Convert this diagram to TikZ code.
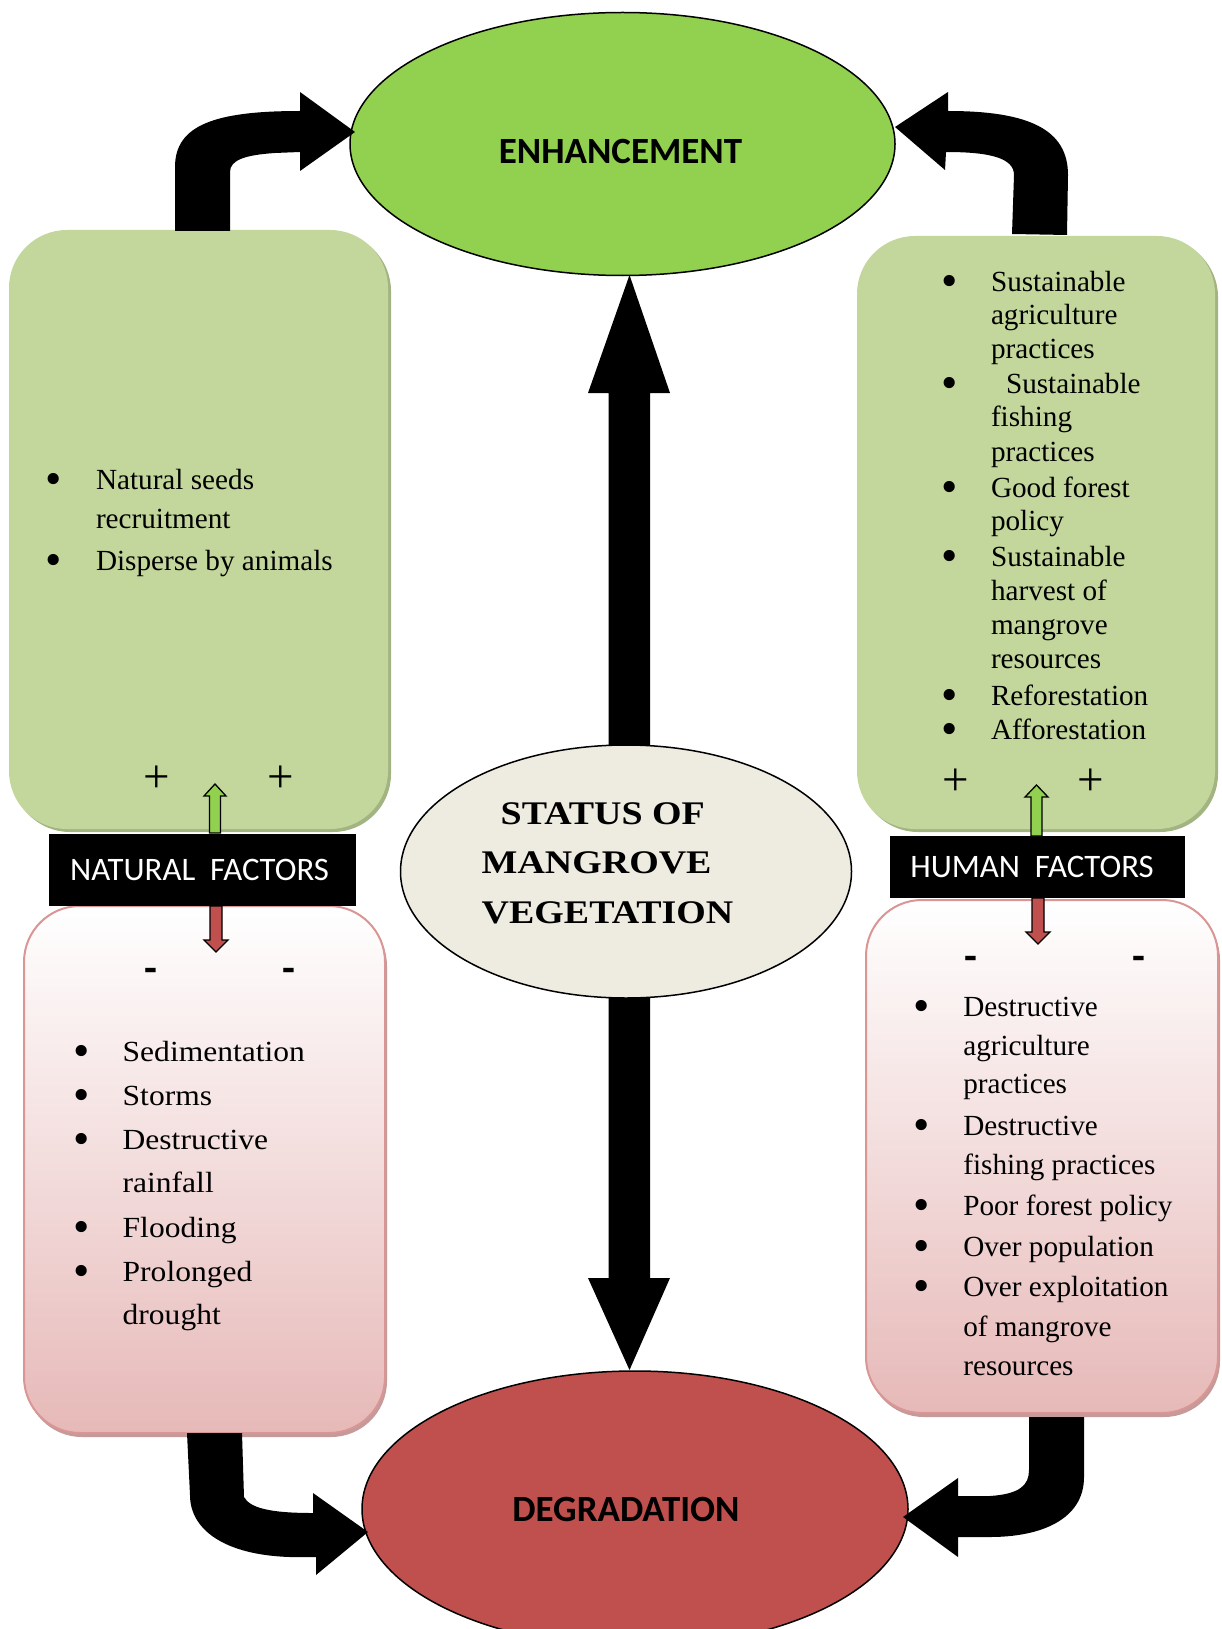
\documentclass[tikz,border=0pt]{standalone}
\usepackage{fontspec}
\usepackage{graphicx}
\setmainfont{Liberation Serif}
\newfontfamily\calibri{Carlito}
\usetikzlibrary{shapes.geometric,shadows}
\definecolor{enhgreen}{HTML}{92D050}
\definecolor{boxgreen}{HTML}{C3D69B}
\definecolor{greenshadow}{HTML}{A3B483}
\definecolor{degred}{HTML}{C0504D}
\definecolor{statusfill}{HTML}{EEECE1}
\definecolor{pinkdeep}{HTML}{E6B9B8}
\definecolor{pinkborder}{HTML}{D99694}
\definecolor{pinkshadow}{HTML}{C49A9A}
\newcommand\lstfnt{\fontsize{29.2pt}{34pt}\selectfont}
\newcommand\bigbul{\smash{\scalebox{1.6}{\textbullet}}}
\begin{document}
\begin{tikzpicture}[x=1pt,y=-1pt,
  every node/.style={inner sep=0pt,outer sep=0pt},
  greenbox/.style={fill=boxgreen,rounded corners=58pt,
     general shadow={shadow xshift=3pt,shadow yshift=-3pt,fill=greenshadow}},
  pinkbox/.style={draw=pinkborder,line width=2pt,top color=white,bottom color=pinkdeep,
     rounded corners=56pt,
     general shadow={shadow xshift=2pt,shadow yshift=-4pt,fill=pinkshadow}},
  bigell/.style={ellipse,draw=black,line width=1.5pt},
  factorbox/.style={fill=black,text=white,font=\calibri\fontsize{32.8pt}{36pt}\selectfont},
  lsttext/.style={anchor=base west,font=\lstfnt},
  lstbul/.style={anchor=base,font=\lstfnt},
  plussign/.style={font=\fontsize{47pt}{50pt}\selectfont},
  minussign/.style={anchor=base,font=\calibri\bfseries\fontsize{42pt}{46pt}\selectfont},
  statustext/.style={anchor=base west,font=\bfseries\fontsize{33pt}{40pt}\selectfont},
  titletext/.style={font=\calibri\bfseries\fontsize{37pt}{40pt}\selectfont},
  blockarrow/.style={fill=black},
  smallarrow/.style={draw=black,line width=1.3pt,line join=miter}
]
\useasboundingbox (0,0) rectangle (1221,1629);
\clip (0,0) rectangle (1221,1629);
\fill[white] (0,0) rectangle (1221,1629);

% boxes
\node[greenbox,minimum width=379pt,minimum height=599pt] (lgreen) at (198.5,529.5) {};
\node[greenbox,minimum width=358pt,minimum height=593pt] (rgreen) at (1036,532.5) {};
\node[pinkbox,minimum width=361pt,minimum height=527pt] (lpink) at (204.5,1169.5) {};
\node[pinkbox,minimum width=352pt,minimum height=513pt] (rpink) at (1042,1156.5) {};

% central double arrow
\fill[blockarrow] (629.5,275) -- (670,393) -- (650,393) -- (650,1278) -- (670,1278)
  -- (629.5,1370) -- (588,1278) -- (608.5,1278) -- (608.5,393) -- (588,393) -- cycle;

% ellipses
\node[bigell,fill=enhgreen,minimum width=545pt,minimum height=263pt] (enh) at (622.5,144) {};
\node[titletext] (enht) at (620.5,151) {ENHANCEMENT};
\node[bigell,fill=degred,minimum width=546pt,minimum height=276pt] (deg) at (635,1509) {};
\node[titletext] (degt) at (626,1509) {DEGRADATION};
\node[bigell,fill=statusfill,minimum width=451pt,minimum height=253pt] (stat) at (626,871.5) {};
\node[statustext] (st1) at (500.7,824) {\scalebox{1.15}[1]{STATUS OF}};
\node[statustext] (st2) at (481.7,873) {\scalebox{1.15}[1]{MANGROVE}};
\node[statustext] (st3) at (481.7,923) {\scalebox{1.15}[1]{VEGETATION}};

% curved block arrows
\fill[blockarrow] (175,231) -- (175,167) .. controls (175,125) and (215,111) .. (300,111)
  -- (300,92) -- (355,132) -- (300,171) -- (300,152) -- (275,153)
  .. controls (245,155) and (230,160) .. (230,172) -- (230,231) -- cycle;
\fill[blockarrow] (895,127) -- (948,92) -- (948,111) .. controls (1030,111) and (1068,130) .. (1068,175)
  -- (1067,235) -- (1012,234) -- (1014,175) .. controls (1014,158) and (990,152) .. (946,152)
  -- (945,170) -- cycle;
\fill[blockarrow] (187,1433) -- (242,1433) -- (244,1497) .. controls (250,1508) and (270,1513) .. (313,1513)
  -- (313,1493) -- (368,1532) -- (316,1575) -- (316,1557) -- (290,1557)
  .. controls (225,1555) and (190,1530) .. (190,1495) -- cycle;
\fill[blockarrow] (1029,1417) -- (1084,1417) -- (1084,1477) .. controls (1084,1520) and (1040,1537) .. (990,1537)
  -- (958,1537) -- (958,1557) -- (903,1517) -- (958,1478) -- (958,1496) -- (990,1496)
  .. controls (1020,1494) and (1029,1485) .. (1029,1470) -- cycle;

% factor labels
\node[factorbox,minimum width=307pt,minimum height=72pt] (nat) at (202.5,870) {\hspace*{-6pt}NATURAL\ \ FACTORS};
\node[factorbox,minimum width=295pt,minimum height=62pt] (hum) at (1037.5,867) {\hspace*{-11pt}HUMAN\ \ FACTORS};

% small arrows
\filldraw[smallarrow,fill=enhgreen] (209.5,833) -- (209.5,796) -- (204,796) -- (215,784) -- (226,796) -- (220.5,796) -- (220.5,833) -- cycle;
\filldraw[smallarrow,fill=enhgreen] (1031,836) -- (1031,797) -- (1025,797) -- (1036.5,785) -- (1048,797) -- (1042,797) -- (1042,836) -- cycle;
\filldraw[smallarrow,fill=degred] (210,906) -- (210,940) -- (204,940) -- (216,952) -- (228,940) -- (222,940) -- (222,906) -- cycle;
\filldraw[smallarrow,fill=degred] (1032,898) -- (1032,932) -- (1026,932) -- (1038,944) -- (1050,932) -- (1044,932) -- (1044,898) -- cycle;

% plus / minus
\node[plussign] (p1) at (157,779) {+};
\node[plussign] (p2) at (281,779) {+};
\node[plussign] (p3) at (956,782) {+};
\node[plussign] (p4) at (1091,782) {+};
\node[minussign] (m1) at (151,982) {-};
\node[minussign] (m2) at (289,982) {-};
\node[minussign] (m3) at (971,970) {-};
\node[minussign] (m4) at (1139,970) {-};

% left green list
\foreach \y/\t [count=\i] in {489.3/Natural seeds, 528.3/recruitment, 570/Disperse by animals}
  \node[lsttext] (lg\i) at (96,\y) {\t};
\foreach \y [count=\i] in {489.3,570}
  \node[lstbul] (lgb\i) at (53.3,\y+5) {\bigbul};

% right green list
\foreach \x/\y/\t [count=\i] in {991/291/Sustainable, 991/324.3/agriculture, 991/358.3/practices,
   1006/393.3/Sustainable, 991/426.7/fishing, 991/461/practices, 991/497.3/Good forest,
   991/530.7/policy, 991/566/Sustainable, 991/600/harvest of, 991/634/mangrove,
   991/668.3/resources, 991/705/Reforestation, 991/739.3/Afforestation}
  \node[lsttext] (rg\i) at (\x,\y) {\t};
\foreach \y [count=\i] in {291,393.3,497.3,566,705,739.3}
  \node[lstbul] (rgb\i) at (949.3,\y+5) {\bigbul};

% left pink list
\foreach \y/\t [count=\i] in {1061.7/Sedimentation, 1105/Storms, 1149.3/Destructive,
   1192.7/rainfall, 1237.7/Flooding, 1281.7/Prolonged, 1324.3/drought}
  \node[lsttext] (lp\i) at (122.7,\y) {\scalebox{1.08}[1]{\t}};
\foreach \y [count=\i] in {1061.7,1105,1149.3,1237.7,1281.7}
  \node[lstbul] (lpb\i) at (81.7,\y+5) {\bigbul};

% right pink list
\foreach \y/\t [count=\i] in {1016/Destructive, 1055/agriculture, 1093.3/practices,
   1135/Destructive, 1174.3/fishing practices, 1215/Poor forest policy,
   1256/Over population, 1296.7/Over exploitation, 1336/of mangrove, 1375/resources}
  \node[lsttext] (rp\i) at (963.3,\y) {\t};
\foreach \y [count=\i] in {1016,1135,1215,1256,1296.7}
  \node[lstbul] (rpb\i) at (921.7,\y+5) {\bigbul};
\end{tikzpicture}
\end{document}
